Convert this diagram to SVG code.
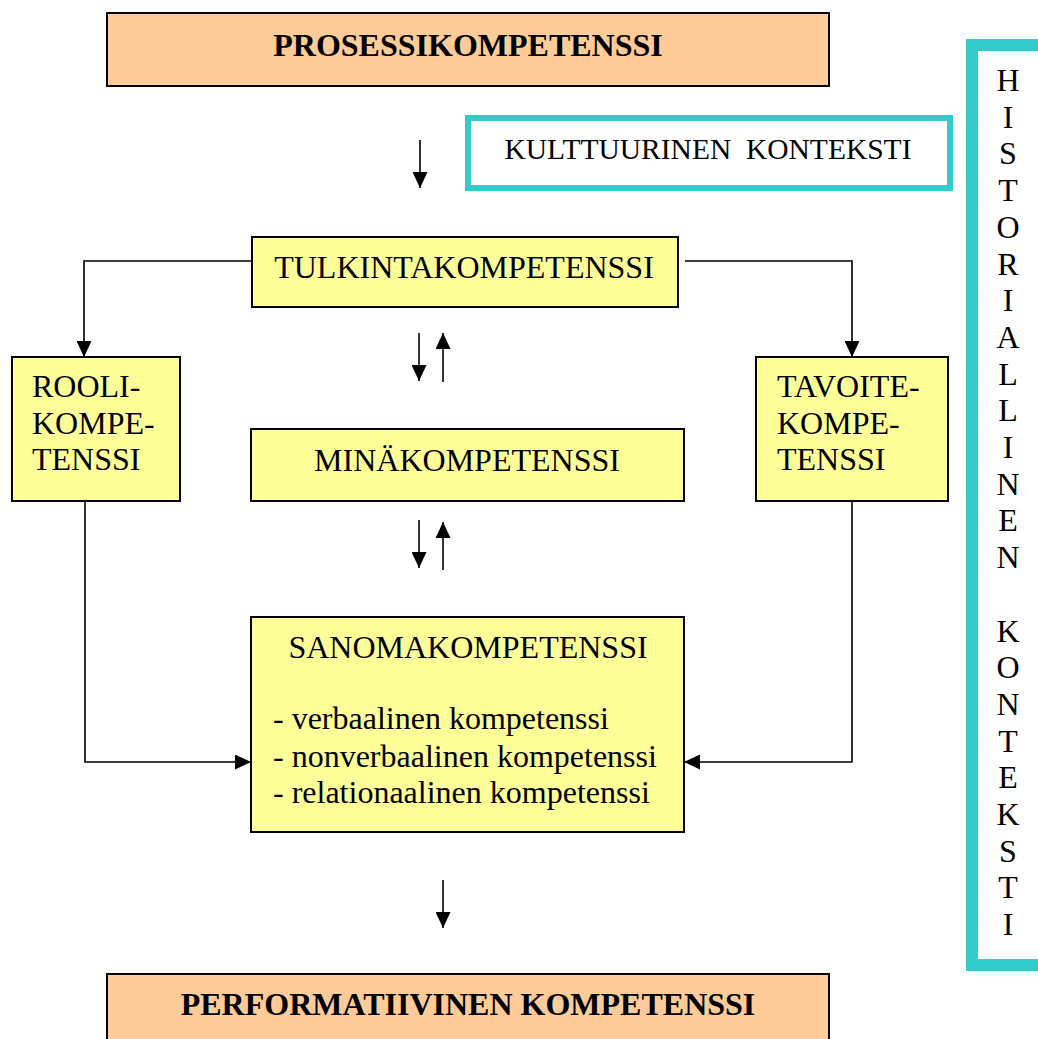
<svg xmlns="http://www.w3.org/2000/svg" width="1038" height="1039" viewBox="0 0 1038 1039">
<defs>
<style>
.t{font-family:"Liberation Serif","Times New Roman",serif;font-size:32px;fill:#000}
.b{font-weight:bold}
.c{text-anchor:middle}
.s29{font-size:29.5px}
.y{fill:#FFFF99;stroke:#000;stroke-width:2}
.o{fill:#FFCC99;stroke:#000;stroke-width:2}
.tl{fill:#fff;stroke:#33CCCC}
.ln{fill:none;stroke:#000;stroke-width:1.6}
</style>
<marker id="ah" markerUnits="userSpaceOnUse" markerWidth="16" markerHeight="15" refX="16" refY="7.5" orient="auto">
<path d="M0,0 L16,7.5 L0,15 z" fill="#000"/>
</marker>
</defs>
<rect width="1038" height="1039" fill="#fff"/>

<g id="historiallinen">
<rect class="tl" x="972" y="45" width="100" height="920" stroke-width="12"/>
<text class="t c" x="1008">
<tspan x="1008" y="91">H</tspan><tspan x="1008" y="127.7">I</tspan><tspan x="1008" y="164.4">S</tspan><tspan x="1008" y="201.1">T</tspan><tspan x="1008" y="237.8">O</tspan><tspan x="1008" y="274.5">R</tspan><tspan x="1008" y="311.2">I</tspan><tspan x="1008" y="347.9">A</tspan><tspan x="1008" y="384.6">L</tspan><tspan x="1008" y="421.3">L</tspan><tspan x="1008" y="458">I</tspan><tspan x="1008" y="494.7">N</tspan><tspan x="1008" y="531.4">E</tspan><tspan x="1008" y="568.1">N</tspan><tspan x="1008" y="641.5">K</tspan><tspan x="1008" y="678.2">O</tspan><tspan x="1008" y="714.9">N</tspan><tspan x="1008" y="751.6">T</tspan><tspan x="1008" y="788.3">E</tspan><tspan x="1008" y="825">K</tspan><tspan x="1008" y="861.7">S</tspan><tspan x="1008" y="898.4">T</tspan><tspan x="1008" y="935.1">I</tspan>
</text>
</g>

<g id="prosessi">
<rect class="o" x="107" y="13" width="722" height="73"/>
<text class="t b c" x="468" y="56">PROSESSIKOMPETENSSI</text>
</g>

<g id="kulttuurinen">
<rect class="tl" x="468" y="118" width="482" height="70" stroke-width="6"/>
<text class="t c s29" x="708" y="159" xml:space="preserve">KULTTUURINEN  KONTEKSTI</text>
</g>

<g id="tulkinta">
<rect class="y" x="252" y="237" width="426" height="70"/>
<text class="t c" x="464" y="278">TULKINTAKOMPETENSSI</text>
</g>

<g id="rooli">
<rect class="y" x="12" y="357" width="168" height="144"/>
<text class="t" x="32" y="397">ROOLI-</text>
<text class="t" x="32" y="434">KOMPE-</text>
<text class="t" x="32" y="470">TENSSI</text>
</g>

<g id="tavoite">
<rect class="y" x="756" y="357" width="192" height="144"/>
<text class="t" x="777" y="397">TAVOITE-</text>
<text class="t" x="777" y="434">KOMPE-</text>
<text class="t" x="777" y="470">TENSSI</text>
</g>

<g id="mina">
<rect class="y" x="251" y="429" width="433" height="72"/>
<text class="t c" x="467" y="471">MINÄKOMPETENSSI</text>
</g>

<g id="sanoma">
<rect class="y" x="251" y="617" width="433" height="215"/>
<text class="t c" x="468" y="658">SANOMAKOMPETENSSI</text>
<text class="t" x="273" y="729">- verbaalinen kompetenssi</text>
<text class="t" x="273" y="767">- nonverbaalinen kompetenssi</text>
<text class="t" x="273" y="803">- relationaalinen kompetenssi</text>
</g>

<g id="performatiivinen">
<rect class="o" x="107" y="974" width="722" height="80"/>
<text class="t b c" x="468" y="1015">PERFORMATIIVINEN KOMPETENSSI</text>
</g>

<g id="connectors">
<line class="ln" x1="420" y1="140" x2="420" y2="188" marker-end="url(#ah)"/>
<polyline class="ln" points="252,261 84,261 84,357" marker-end="url(#ah)"/>
<polyline class="ln" points="685,261 852,261 852,357" marker-end="url(#ah)"/>
<line class="ln" x1="419" y1="333" x2="419" y2="381" marker-end="url(#ah)"/>
<line class="ln" x1="443" y1="382" x2="443" y2="333" marker-end="url(#ah)"/>
<line class="ln" x1="419" y1="520" x2="419" y2="568" marker-end="url(#ah)"/>
<line class="ln" x1="443" y1="570" x2="443" y2="522" marker-end="url(#ah)"/>
<polyline class="ln" points="85,500 85,762 251,762" marker-end="url(#ah)"/>
<polyline class="ln" points="852,500 852,762 684,762" marker-end="url(#ah)"/>
<line class="ln" x1="443" y1="880" x2="443" y2="928" marker-end="url(#ah)"/>
</g>
</svg>
